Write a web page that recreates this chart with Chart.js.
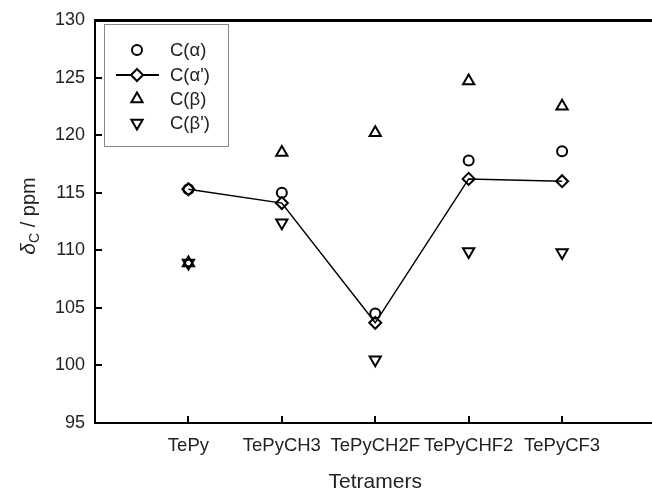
<!DOCTYPE html>
<html>
<head>
<meta charset="utf-8">
<script src="https://cdn.jsdelivr.net/npm/chart.js@4/dist/chart.umd.min.js"></script>
<style>
  html, body { margin: 0; padding: 0; background: #fff; overflow: hidden; }
  #c { display: block; }
</style>
</head>
<body>
<canvas id="c" width="664" height="490" style="width:664px;height:490px"></canvas>
<script>
// ---- data ----
const categories = ['TePy', 'TePyCH3', 'TePyCH2F', 'TePyCHF2', 'TePyCF3'];
const xPositions = [1, 2, 3, 4, 5];
const cAlpha      = [115.3, 115.0, 104.5, 117.8, 118.6];
const cAlphaPrime = [115.3, 114.1, 103.7, 116.2, 116.0];
const cBeta       = [108.9, 118.5, 120.2, 124.7, 122.5];
const cBetaPrime  = [108.9, 112.4, 100.5, 109.9, 109.8];
const yTicks = [95, 100, 105, 110, 115, 120, 125, 130];
const seriesLabels = ['C(\u03B1)', "C(\u03B1')", 'C(\u03B2)', "C(\u03B2')"];

const FONT = "'Liberation Sans', Arial, sans-serif";
const pts = arr => arr.map((v, i) => ({ x: xPositions[i], y: v }));

const styles = [
  { pointStyle: 'circle', radius: 5, rotation: 0, showLine: false },
  { pointStyle: 'rectRot', radius: 6, rotation: 0, showLine: true },
  { pointStyle: 'triangle', radius: 6.5, rotation: 0, showLine: false },
  { pointStyle: 'triangle', radius: 6.5, rotation: 180, showLine: false }
];
const seriesData = [cAlpha, cAlphaPrime, cBeta, cBetaPrime];

const datasets = seriesData.map((d, i) => ({
  label: seriesLabels[i],
  data: pts(d),
  showLine: styles[i].showLine,
  borderColor: '#000',
  borderWidth: 1.5,
  backgroundColor: '#fff',
  pointStyle: styles[i].pointStyle,
  pointRadius: styles[i].radius,
  pointRotation: styles[i].rotation,
  pointBorderColor: '#000',
  pointBackgroundColor: 'rgba(255,255,255,0)',
  pointBorderWidth: 2,
  tension: 0,
  order: i === 1 ? 1 : 0
}));

function drawMarker(ctx, style, radius, rotation, x, y) {
  ctx.save();
  ctx.translate(x, y);
  ctx.rotate(rotation * Math.PI / 180);
  ctx.beginPath();
  if (style === 'circle') {
    ctx.arc(0, 0, radius, 0, Math.PI * 2);
  } else if (style === 'rectRot') {
    ctx.moveTo(0, -radius); ctx.lineTo(radius, 0); ctx.lineTo(0, radius); ctx.lineTo(-radius, 0);
  } else if (style === 'triangle') {
    for (let k = 0; k < 3; k++) {
      const a = k * 2 * Math.PI / 3;
      const px = Math.sin(a) * radius, py = -Math.cos(a) * radius;
      if (k === 0) ctx.moveTo(px, py); else ctx.lineTo(px, py);
    }
  }
  ctx.closePath();
  ctx.fillStyle = '#fff';
  ctx.fill();
  ctx.lineWidth = 2;
  ctx.strokeStyle = '#000';
  ctx.stroke();
  ctx.restore();
}

const decorPlugin = {
  id: 'decor',
  afterDraw(chart) {
    const ctx = chart.ctx;
    const a = chart.chartArea;
    const xs = chart.scales.x, ys = chart.scales.y;
    ctx.save();
    // frame
    ctx.strokeStyle = '#000';
    ctx.lineWidth = 3;
    ctx.beginPath(); ctx.moveTo(a.left - 1, a.top + 0.5); ctx.lineTo(chart.width, a.top + 0.5); ctx.stroke();
    ctx.lineWidth = 2;
    ctx.beginPath(); ctx.moveTo(a.left, a.top); ctx.lineTo(a.left, a.bottom + 1); ctx.stroke();
    ctx.beginPath(); ctx.moveTo(a.left - 1, a.bottom); ctx.lineTo(chart.width, a.bottom); ctx.stroke();
    // inward ticks
    ctx.lineWidth = 2;
    yTicks.forEach(v => {
      const py = Math.round(ys.getPixelForValue(v));
      ctx.beginPath(); ctx.moveTo(a.left, py); ctx.lineTo(a.left + 7, py); ctx.stroke();
    });
    xPositions.forEach(v => {
      const px = Math.round(xs.getPixelForValue(v));
      ctx.beginPath(); ctx.moveTo(px, a.bottom); ctx.lineTo(px, a.bottom - 7); ctx.stroke();
    });
    // y title: delta_C / ppm
    ctx.translate(28, 216);
    ctx.rotate(-Math.PI / 2);
    ctx.fillStyle = '#222';
    ctx.textBaseline = 'alphabetic';
    const f1 = "italic 21px " + FONT, f2 = "14px " + FONT, f3 = "20px " + FONT;
    ctx.font = f1; const w1 = ctx.measureText('\u03B4').width;
    ctx.font = f2; const w2 = ctx.measureText('C').width;
    ctx.font = f3; const w3 = ctx.measureText(' / ppm').width;
    let sx = -(w1 + w2 + w3) / 2;
    const base = 7;
    ctx.font = f1; ctx.fillText('\u03B4', sx, base); sx += w1;
    ctx.font = f2; ctx.fillText('C', sx, base + 4); sx += w2;
    ctx.font = f3; ctx.fillText(' / ppm', sx, base);
    ctx.restore();

    // legend
    ctx.save();
    ctx.strokeStyle = '#888';
    ctx.lineWidth = 1;
    ctx.strokeRect(104.5, 24.5, 124, 122);
    const rowsY = [50, 75, 99, 123];
    ctx.font = "18.5px " + FONT;
    ctx.fillStyle = '#222';
    ctx.textBaseline = 'middle';
    chart.data.datasets.forEach((ds, i) => {
      const y = rowsY[i];
      if (ds.showLine) {
        ctx.strokeStyle = '#000'; ctx.lineWidth = 2;
        ctx.beginPath(); ctx.moveTo(116, y); ctx.lineTo(159, y); ctx.stroke();
      }
      drawMarker(ctx, ds.pointStyle, ds.pointRadius, ds.pointRotation, 137, y);
      ctx.fillStyle = '#222';
      ctx.fillText(ds.label, 170, y + 1);
    });
    ctx.restore();
  }
};

new Chart(document.getElementById('c'), {
  type: 'scatter',
  data: { datasets },
  plugins: [decorPlugin],
  options: {
    responsive: false,
    animation: false,
    layout: { padding: { top: 20, right: 0, bottom: 0, left: 0 } },
    plugins: { legend: { display: false }, tooltip: { enabled: false } },
    scales: {
      x: {
        type: 'linear',
        min: 0, max: 6,
        grid: { display: false, drawTicks: false },
        border: { display: false },
        afterBuildTicks: s => { s.ticks = xPositions.map(v => ({ value: v })); },
        afterFit: s => { s.height = 67; s.paddingLeft = 0; s.paddingRight = 0; },
        ticks: {
          padding: 12,
          autoSkip: false,
          maxRotation: 0,
          color: '#222',
          font: { family: FONT, size: 18.5 },
          callback: v => { const i = xPositions.indexOf(v); return i >= 0 ? categories[i] : ''; }
        },
        title: {
          display: true,
          text: 'Tetramers',
          color: '#222',
          font: { family: FONT, size: 21, lineHeight: 1 },
          padding: { top: 0, bottom: -3 }
        }
      },
      y: {
        type: 'linear',
        min: 95, max: 130,
        grid: { display: false, drawTicks: false },
        border: { display: false },
        afterBuildTicks: s => { s.ticks = yTicks.map(v => ({ value: v })); },
        afterFit: s => { s.width = 95; s.paddingTop = 0; s.paddingBottom = 0; },
        ticks: {
          padding: 10,
          color: '#222',
          font: { family: FONT, size: 18 }
        }
      }
    }
  }
});
</script>
</body>
</html>
